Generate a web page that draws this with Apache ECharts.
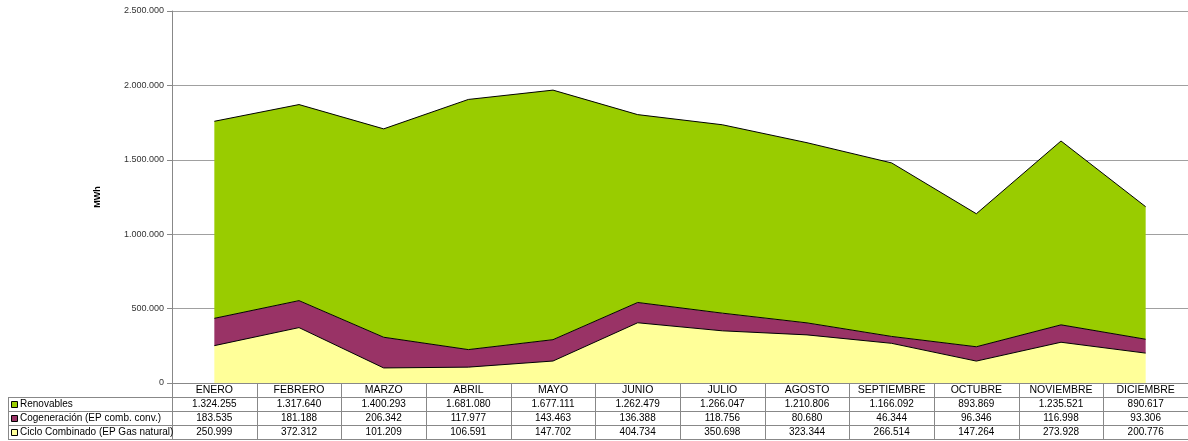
<!DOCTYPE html>
<html>
<head>
<meta charset="utf-8">
<script src="https://cdn.jsdelivr.net/npm/echarts@6/dist/echarts.min.js"></script>
<style>
  html, body { margin: 0; padding: 0; background: #fff; }
  #main { width: 1188px; height: 441px; }
</style>
</head>
<body>
<div id="main"></div>
<script>
// datos mensuales (MWh)
var meses = ['ENERO', 'FEBRERO', 'MARZO', 'ABRIL', 'MAYO', 'JUNIO', 'JULIO', 'AGOSTO', 'SEPTIEMBRE', 'OCTUBRE', 'NOVIEMBRE', 'DICIEMBRE'];
var renovables = [1324255, 1317640, 1400293, 1681080, 1677111, 1262479, 1266047, 1210806, 1166092, 893869, 1235521, 890617];
var cogeneracion = [183535, 181188, 206342, 117977, 143463, 136388, 118756, 80680, 46344, 96346, 116998, 93306];
var cicloCombinado = [250999, 372312, 101209, 106591, 147702, 404734, 350698, 323344, 266514, 147264, 273928, 200776];
var yTicks = [0, 500000, 1000000, 1500000, 2000000, 2500000];

var nombres = ['Renovables', 'Cogeneración (EP comb. conv.)', 'Ciclo Combinado (EP Gas natural)'];
var colores = ['#99CC00', '#993366', '#FFFF99'];
var filas = [renovables, cogeneracion, cicloCombinado];

function fmt(v) {
    return String(v).replace(/\B(?=(\d{3})+(?!\d))/g, '.');
}

var chart = echarts.init(document.getElementById('main'));

function serie(name, data, color) {
    return {
        name: name,
        type: 'line',
        stack: 'total',
        data: data,
        symbol: 'none',
        animation: false,
        lineStyle: { color: '#000', width: 1 },
        areaStyle: { color: color, opacity: 1 }
    };
}

chart.setOption({
    animation: false,
    grid: { left: 172, top: 11, width: 1018, height: 372 },
    xAxis: {
        type: 'category',
        data: meses,
        boundaryGap: true,
        axisLine: { lineStyle: { color: '#888' } },
        axisTick: { show: false },
        axisLabel: { interval: 0, color: '#000', fontFamily: 'Liberation Sans', fontSize: 10.5, margin: 2 }
    },
    yAxis: {
        type: 'value',
        min: yTicks[0],
        max: yTicks[yTicks.length - 1],
        interval: 500000,
        name: 'MWh',
        nameLocation: 'middle',
        nameGap: 70,
        nameRotate: 90,
        nameTextStyle: { fontFamily: 'Liberation Sans', fontSize: 9, fontWeight: 'bold', color: '#000' },
        axisLine: { show: true, lineStyle: { color: '#888' } },
        axisTick: { show: true, length: 5, lineStyle: { color: '#888' } },
        axisLabel: { formatter: fmt, color: '#333', fontFamily: 'Liberation Sans', fontSize: 9, margin: 8 },
        splitLine: { lineStyle: { color: '#a0a0a0' } }
    },
    series: [
        serie(nombres[2], cicloCombinado, colores[2]),
        serie(nombres[1], cogeneracion, colores[1]),
        serie(nombres[0], renovables, colores[0])
    ]
});

// tabla de datos bajo el gráfico
var x0 = chart.convertToPixel({ xAxisIndex: 0 }, 0);
var paso = chart.convertToPixel({ xAxisIndex: 0 }, 1) - x0;
var yEje = chart.convertToPixel({ yAxisIndex: 0 }, 0);
var altoFila = 14;
var izq = 8;
var borde = { stroke: '#888', lineWidth: 1 };
var fuente = '10px "Liberation Sans"';
var g = [];

// líneas horizontales
for (var r = 1; r <= 4; r++) {
    var y = Math.round(yEje + altoFila * r) + 0.5;
    g.push({ type: 'line', shape: { x1: izq, y1: y, x2: 1188, y2: y }, style: borde, silent: true });
}
// líneas verticales
g.push({ type: 'line', shape: { x1: izq + 0.5, y1: yEje + altoFila, x2: izq + 0.5, y2: yEje + altoFila * 4 }, style: borde });
for (var c = 0; c <= meses.length; c++) {
    var xv = Math.round(x0 - paso / 2 + paso * c) + 0.5;
    g.push({ type: 'line', shape: { x1: xv, y1: yEje, x2: xv, y2: yEje + altoFila * 4 }, style: borde });
}
// filas
filas.forEach(function (fila, i) {
    var yc = yEje + altoFila * (i + 1) + altoFila / 2 + 0.5;
    g.push({ type: 'rect', shape: { x: 11.5, y: Math.round(yc) - 3.5, width: 6, height: 6 },
        style: { fill: colores[i], stroke: '#000', lineWidth: 1 } });
    g.push({ type: 'text', x: 20, y: yc, style: { text: nombres[i], font: fuente,
        fill: '#000', verticalAlign: 'middle', align: 'left' } });
    fila.forEach(function (v, j) {
        g.push({ type: 'text', x: x0 + paso * j, y: yc, style: { text: fmt(v), font: fuente,
            fill: '#000', verticalAlign: 'middle', align: 'center' } });
    });
});

chart.setOption({ graphic: g });
</script>
</body>
</html>
